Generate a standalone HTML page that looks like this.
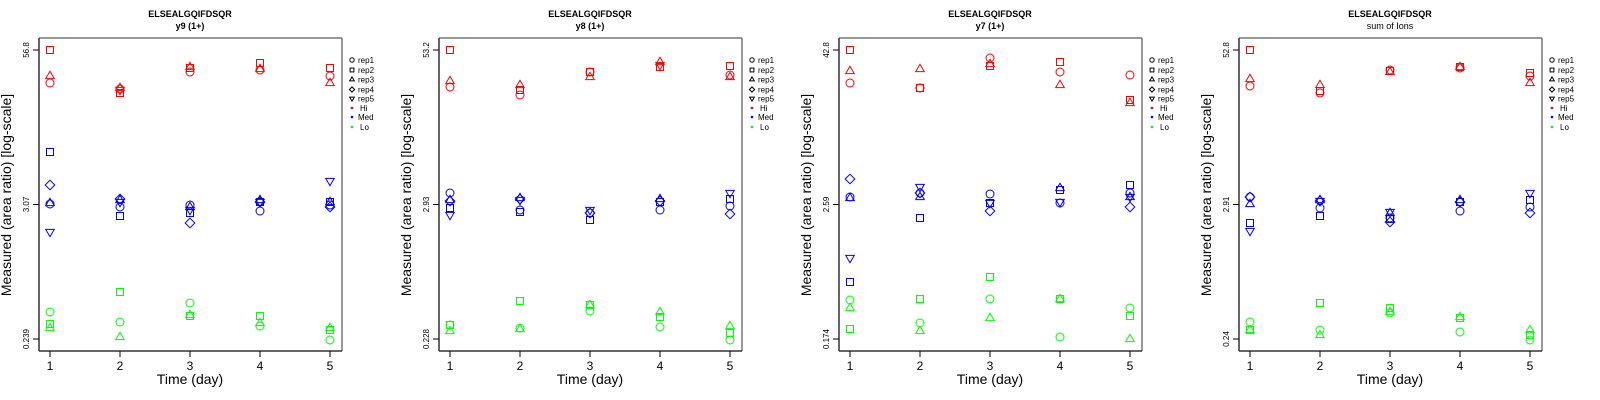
<!DOCTYPE html>
<html><head><meta charset="utf-8"><style>
html,body{margin:0;padding:0;background:#fff;}
svg{display:block;font-family:"Liberation Sans",sans-serif;}
</style></head><body>
<svg id="s" width="1600" height="400" viewBox="0 0 1600 400" xmlns="http://www.w3.org/2000/svg">
<g id="p0" transform="translate(0,0)">
<text x="190" y="17" font-size="9" font-weight="bold" text-anchor="middle">ELSEALGQIFDSQR</text>
<text x="190" y="29" font-size="9" font-weight="bold" text-anchor="middle">y9 (1+)</text>
<text transform="translate(29,50) rotate(-90)" font-size="8" text-anchor="middle">56.8</text>
<text transform="translate(29,204.5) rotate(-90)" font-size="8" text-anchor="middle">3.07</text>
<text transform="translate(29,339) rotate(-90)" font-size="8" text-anchor="middle">0.239</text>
</g>
<g id="p1" transform="translate(400,0)">
<text x="190" y="17" font-size="9" font-weight="bold" text-anchor="middle">ELSEALGQIFDSQR</text>
<text x="190" y="29" font-size="9" font-weight="bold" text-anchor="middle">y8 (1+)</text>
<text transform="translate(29,50) rotate(-90)" font-size="8" text-anchor="middle">53.2</text>
<text transform="translate(29,204.5) rotate(-90)" font-size="8" text-anchor="middle">2.93</text>
<text transform="translate(29,339) rotate(-90)" font-size="8" text-anchor="middle">0.228</text>
</g>
<g id="p2" transform="translate(800,0)">
<text x="190" y="17" font-size="9" font-weight="bold" text-anchor="middle">ELSEALGQIFDSQR</text>
<text x="190" y="29" font-size="9" font-weight="bold" text-anchor="middle">y7 (1+)</text>
<text transform="translate(29,50) rotate(-90)" font-size="8" text-anchor="middle">42.8</text>
<text transform="translate(29,204.5) rotate(-90)" font-size="8" text-anchor="middle">2.59</text>
<text transform="translate(29,339) rotate(-90)" font-size="8" text-anchor="middle">0.174</text>
</g>
<g id="p3" transform="translate(1200,0)">
<text x="190" y="17" font-size="9" font-weight="bold" text-anchor="middle">ELSEALGQIFDSQR</text>
<text x="190" y="29" font-size="9" text-anchor="middle">sum of Ions</text>
<text transform="translate(29,50) rotate(-90)" font-size="8" text-anchor="middle">52.8</text>
<text transform="translate(29,204.5) rotate(-90)" font-size="8" text-anchor="middle">2.91</text>
<text transform="translate(29,339) rotate(-90)" font-size="8" text-anchor="middle">0.24</text>
</g>
<g id="common-text">
<!-- repeated per panel below -->
</g>
<g transform="translate(0,0)" font-size="8"><text x="11" y="195" font-size="14" text-anchor="middle" transform="rotate(-90 11 195)">Measured (area ratio) [log-scale]</text><text x="190" y="384" font-size="14" text-anchor="middle">Time (day)</text><text x="50" y="370" font-size="12" text-anchor="middle">1</text><text x="120" y="370" font-size="12" text-anchor="middle">2</text><text x="190" y="370" font-size="12" text-anchor="middle">3</text><text x="260" y="370" font-size="12" text-anchor="middle">4</text><text x="330" y="370" font-size="12" text-anchor="middle">5</text><text x="358" y="63">rep1</text><text x="358" y="73">rep2</text><text x="358" y="82.5">rep3</text><text x="358" y="92.5">rep4</text><text x="358" y="101.5">rep5</text><text x="360" y="111">Hi</text><text x="358" y="120">Med</text><text x="360" y="130">Lo</text></g>
<g transform="translate(400,0)" font-size="8"><text x="11" y="195" font-size="14" text-anchor="middle" transform="rotate(-90 11 195)">Measured (area ratio) [log-scale]</text><text x="190" y="384" font-size="14" text-anchor="middle">Time (day)</text><text x="50" y="370" font-size="12" text-anchor="middle">1</text><text x="120" y="370" font-size="12" text-anchor="middle">2</text><text x="190" y="370" font-size="12" text-anchor="middle">3</text><text x="260" y="370" font-size="12" text-anchor="middle">4</text><text x="330" y="370" font-size="12" text-anchor="middle">5</text><text x="358" y="63">rep1</text><text x="358" y="73">rep2</text><text x="358" y="82.5">rep3</text><text x="358" y="92.5">rep4</text><text x="358" y="101.5">rep5</text><text x="360" y="111">Hi</text><text x="358" y="120">Med</text><text x="360" y="130">Lo</text></g>
<g transform="translate(800,0)" font-size="8"><text x="11" y="195" font-size="14" text-anchor="middle" transform="rotate(-90 11 195)">Measured (area ratio) [log-scale]</text><text x="190" y="384" font-size="14" text-anchor="middle">Time (day)</text><text x="50" y="370" font-size="12" text-anchor="middle">1</text><text x="120" y="370" font-size="12" text-anchor="middle">2</text><text x="190" y="370" font-size="12" text-anchor="middle">3</text><text x="260" y="370" font-size="12" text-anchor="middle">4</text><text x="330" y="370" font-size="12" text-anchor="middle">5</text><text x="358" y="63">rep1</text><text x="358" y="73">rep2</text><text x="358" y="82.5">rep3</text><text x="358" y="92.5">rep4</text><text x="358" y="101.5">rep5</text><text x="360" y="111">Hi</text><text x="358" y="120">Med</text><text x="360" y="130">Lo</text></g>
<g transform="translate(1200,0)" font-size="8"><text x="11" y="195" font-size="14" text-anchor="middle" transform="rotate(-90 11 195)">Measured (area ratio) [log-scale]</text><text x="190" y="384" font-size="14" text-anchor="middle">Time (day)</text><text x="50" y="370" font-size="12" text-anchor="middle">1</text><text x="120" y="370" font-size="12" text-anchor="middle">2</text><text x="190" y="370" font-size="12" text-anchor="middle">3</text><text x="260" y="370" font-size="12" text-anchor="middle">4</text><text x="330" y="370" font-size="12" text-anchor="middle">5</text><text x="358" y="63">rep1</text><text x="358" y="73">rep2</text><text x="358" y="82.5">rep3</text><text x="358" y="92.5">rep4</text><text x="358" y="101.5">rep5</text><text x="360" y="111">Hi</text><text x="358" y="120">Med</text><text x="360" y="130">Lo</text></g>
</svg>
<script>
var NS="http://www.w3.org/2000/svg",svg=document.getElementById("s");
function el(t,a,p){var e=document.createElementNS(NS,t);for(var k in a)e.setAttribute(k,a[k]);(p||svg).appendChild(e);return e;}
function mk(g,type,x,y,c,s){s=s||1;var a={fill:"none",stroke:c,"stroke-width":1};
 if(type=="c"){a.cx=x;a.cy=y;a.r=4*s;el("circle",a,g);}
 else if(type=="s"){a.x=x-3.5*s;a.y=y-3.5*s;a.width=7*s;a.height=7*s;el("rect",a,g);}
 else if(type=="t"){a.points=[x,y-4.8*s,x+4.3*s,y+2.6*s,x-4.3*s,y+2.6*s].join(" ");el("polygon",a,g);}
 else if(type=="i"){a.points=[x,y+4.8*s,x+4.3*s,y-2.6*s,x-4.3*s,y-2.6*s].join(" ");el("polygon",a,g);}
 else if(type=="d"){a.points=[x,y-4.8*s,x+4.8*s,y,x,y+4.8*s,x-4.8*s,y].join(" ");el("polygon",a,g);}}
var R="#ff0000",B="#0000ff",G="#00ff00";
var D=[
[[["s",50,R],["t",76,R],["c",83,R],["s",152,B],["d",185,B],["c",204,B],["t",203,B],["i",232,B],["c",312,G],["s",324,G],["t",328,G]],
 [["c",89,R],["t",88,R],["s",93,R],["i",90,R],["d",199,B],["c",207,B],["i",202,B],["t",200,B],["s",216,B],["s",292,G],["c",322,G],["t",337,G]],
 [["s",68,R],["t",67,R],["c",72,R],["c",205,B],["s",213,B],["d",223,B],["t",207,B],["i",210,B],["c",303,G],["s",316,G],["t",315,G]],
 [["s",63,R],["t",69,R],["c",70,R],["c",211,B],["s",202,B],["t",200,B],["i",202,B],["d",202,B],["s",316,G],["c",326,G],["t",323,G]],
 [["s",68,R],["c",76,R],["t",83,R],["i",181,B],["s",202,B],["c",205,B],["d",207,B],["t",202,B],["c",340,G],["s",330,G],["t",328,G]]],
[[["s",50,R],["t",81,R],["c",87,R],["c",193,B],["d",201,B],["t",200,B],["s",208,B],["i",215,B],["s",325,G],["c",325,G],["t",331,G]],
 [["t",85,R],["s",90,R],["c",95,R],["d",199,B],["t",198,B],["i",200,B],["s",212,B],["c",210,B],["s",301,G],["c",328,G],["t",329,G]],
 [["s",72,R],["c",72,R],["t",77,R],["i",210,B],["c",213,B],["s",220,B],["d",213,B],["s",305,G],["t",305,G],["c",311,G]],
 [["t",62,R],["s",67,R],["i",65,R],["t",199,B],["s",202,B],["c",210,B],["d",201,B],["t",312,G],["s",317,G],["c",327,G]],
 [["s",66,R],["c",75,R],["t",77,R],["i",193,B],["s",199,B],["c",206,B],["d",214,B],["t",326,G],["s",333,G],["c",340,G]]],
[[["s",50,R],["t",71,R],["c",83,R],["d",179,B],["c",197,B],["t",198,B],["i",258,B],["s",282,B],["c",300,G],["t",308,G],["s",329,G]],
 [["t",69,R],["s",88,R],["c",88,R],["i",187,B],["t",197,B],["d",193,B],["c",193,B],["s",218,B],["s",299,G],["c",323,G],["t",331,G]],
 [["c",58,R],["s",66,R],["t",64,R],["c",194,B],["s",203,B],["d",211,B],["i",203,B],["s",277,G],["c",299,G],["t",318,G]],
 [["s",62,R],["c",72,R],["t",85,R],["t",188,B],["s",190,B],["c",203,B],["i",202,B],["s",299,G],["t",299,G],["c",337,G]],
 [["c",75,R],["s",100,R],["t",103,R],["s",185,B],["c",193,B],["t",197,B],["i",197,B],["d",207,B],["c",308,G],["s",316,G],["t",339,G]]],
[[["s",50,R],["t",79,R],["c",86,R],["d",197,B],["c",197,B],["t",204,B],["s",223,B],["i",231,B],["c",322,G],["t",330,G],["s",330,G]],
 [["t",85,R],["s",91,R],["c",93,R],["d",201,B],["i",201,B],["t",200,B],["c",208,B],["s",216,B],["s",303,G],["c",330,G],["t",335,G]],
 [["c",70,R],["s",71,R],["t",72,R],["i",212,B],["s",219,B],["c",218,B],["d",222,B],["t",213,B],["s",308,G],["t",312,G],["c",313,G]],
 [["s",67,R],["t",67,R],["c",68,R],["t",200,B],["s",202,B],["c",211,B],["d",202,B],["t",317,G],["s",318,G],["c",332,G]],
 [["s",73,R],["c",76,R],["t",83,R],["i",193,B],["s",200,B],["c",207,B],["d",213,B],["t",330,G],["s",335,G],["c",340,G]]]
];
for(var p=0;p<4;p++){
 var g=el("g",{transform:"translate("+(p*400)+",0)"});
 el("line",{x1:39,y1:38,x2:342,y2:38,stroke:"#777","stroke-width":1.5},g);
 el("line",{x1:342,y1:38,x2:342,y2:351,stroke:"#777","stroke-width":1.5},g);
 el("line",{x1:39,y1:351,x2:342,y2:351,stroke:"#333","stroke-width":1.5},g);
 el("line",{x1:39,y1:38,x2:39,y2:351,stroke:"#333","stroke-width":1.5},g);
 [50,204.5,339].forEach(function(y){el("line",{x1:33,y1:y,x2:39,y2:y,stroke:"#000","stroke-width":1},g);});
 for(var i=0;i<5;i++){var x=50+70*i;el("line",{x1:x,y1:351,x2:x,y2:357,stroke:"#000","stroke-width":1},g);}
 for(var d=0;d<5;d++){D[p][d].forEach(function(m){mk(g,m[0],50+70*d,m[1],m[2]);});}
 var ly=[60,70,79.5,89.5,98.5];["c","s","t","d","i"].forEach(function(t,k){mk(g,t,352,ly[k],"#000",0.55);});
 el("circle",{cx:352,cy:108,r:1.3,fill:R},g);el("circle",{cx:352,cy:117,r:1.3,fill:B},g);el("circle",{cx:352,cy:127,r:1.3,fill:G},g);
}
</script>
</body></html>
